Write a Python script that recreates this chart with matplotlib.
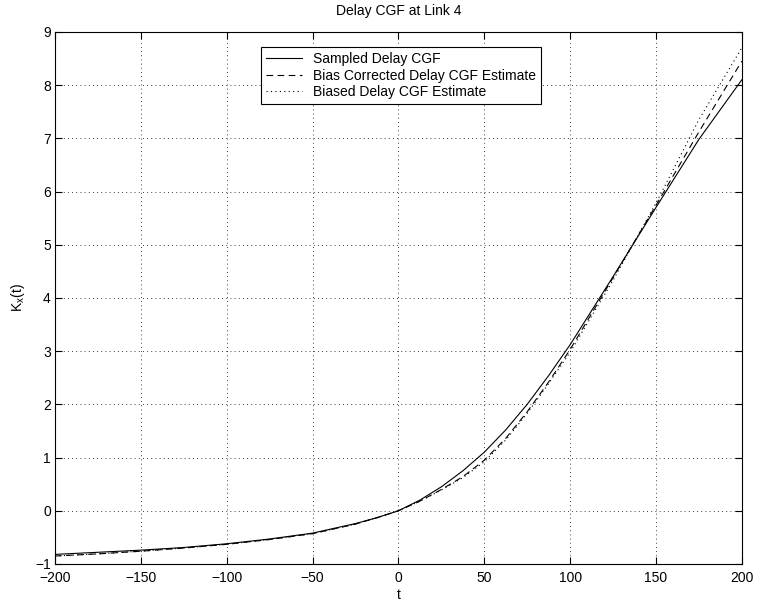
import numpy as np
import matplotlib
matplotlib.use("Agg")
import matplotlib.pyplot as plt

plt.rcParams['font.family'] = ['Liberation Sans', 'DejaVu Sans']
plt.rcParams['mathtext.fontset'] = 'custom'
plt.rcParams['mathtext.rm'] = 'Liberation Sans'
plt.rcParams['mathtext.it'] = 'Liberation Sans'

# values
t = [-200, -175, -150, -125, -100, -75, -50, -25, -12.5, 0, 12.5, 25, 37.5, 50, 62.5, 75, 87.5,
     100, 125, 150, 175, 200]
sampled = [-0.82, -0.78, -0.74, -0.69, -0.62, -0.53, -0.42, -0.24, -0.13, 0.0, 0.20, 0.45, 0.75,
           1.10, 1.52, 2.00, 2.54, 3.12, 4.40, 5.70, 6.98, 8.10]
bias_corrected = [-0.85, -0.81, -0.76, -0.70, -0.63, -0.54, -0.43, -0.25, -0.13, 0.0, 0.18, 0.40, 0.64,
                  0.95, 1.36, 1.86, 2.42, 3.03, 4.38, 5.74, 7.12, 8.45]
biased = [-0.85, -0.81, -0.76, -0.70, -0.63, -0.54, -0.43, -0.25, -0.13, 0.0, 0.18, 0.39, 0.62,
          0.92, 1.33, 1.83, 2.39, 2.98, 4.33, 5.78, 7.35, 8.70]

fig = plt.figure(figsize=(7.6, 6.08), dpi=100)
ax = fig.add_axes([0.0724, 0.0724, 0.9036, 0.8750])

ax.plot(t, sampled, color='black', lw=0.8, label='Sampled Delay CGF')
ax.plot(t, bias_corrected, color='black', lw=0.8, dashes=(6, 4), label='Bias Corrected Delay CGF Estimate')
ax.plot(t, biased, color='black', lw=0.8, dashes=(1, 3), label='Biased Delay CGF Estimate')

ax.set_xlim(-200, 200)
ax.set_ylim(-1, 9)
ax.set_xticks(np.arange(-200, 201, 50))
ax.set_yticks(np.arange(-1, 10, 1))
ax.grid(True, color='black', linestyle=(0, (1, 4)), linewidth=0.6)
ax.tick_params(direction='in', top=True, right=True, labelsize=10, length=5)
ax.tick_params(axis='x', pad=5)
ax.tick_params(axis='y', pad=3)
for s in ax.spines.values():
    s.set_linewidth(0.8)

ax.set_title('Delay CGF at Link 4', fontsize=10, pad=12)
ax.set_xlabel('t', fontsize=10, labelpad=2)
ax.set_ylabel('K$_x$(t)', fontsize=10, labelpad=6)

leg = ax.legend(loc='upper left', bbox_to_anchor=(0.30, 0.972), fontsize=10,
                frameon=True, fancybox=False, edgecolor='black', framealpha=1,
                handlelength=2.6, borderpad=0.35, labelspacing=0.2, borderaxespad=0)
leg.get_frame().set_linewidth(0.8)

plt.savefig('out.png', dpi=100)
plt.close()
